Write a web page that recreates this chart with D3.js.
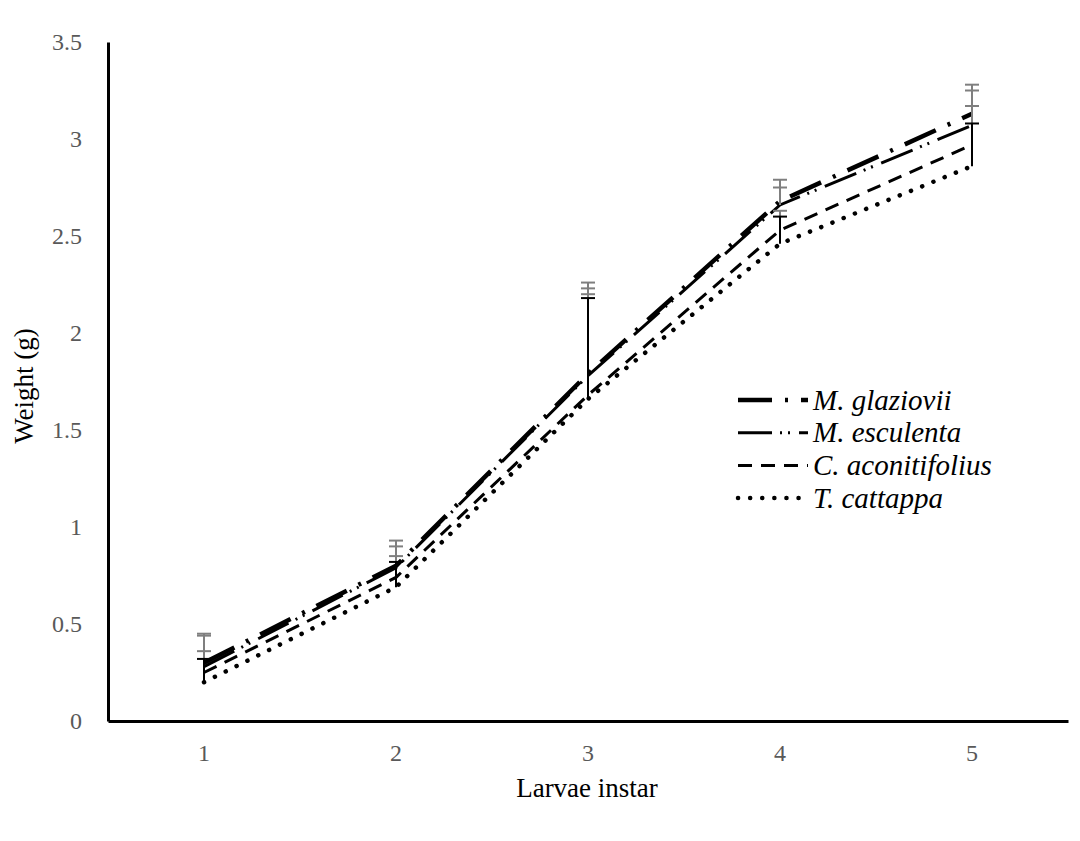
<!DOCTYPE html>
<html>
<head>
<meta charset="utf-8">
<script src="https://cdn.jsdelivr.net/npm/d3@7"></script>
<style>
    body { margin: 0; background: #fff; }
    svg, svg text { font-family: "Liberation Serif", "Times New Roman", serif; }
    svg { display: block; }
</style>
</head>
<body>
<div id="chart"></div>
<script>
// Larvae instars
const instars = [1, 2, 3, 4, 5];
const yTicks = [0, 0.5, 1, 1.5, 2, 2.5, 3, 3.5];

// Mean weight (g) per food plant
const glaziovii = [0.30, 0.80, 1.79, 2.68, 3.13];
const esculenta = [0.28, 0.79, 1.78, 2.66, 3.07];
const aconitifolius = [0.25, 0.74, 1.68, 2.53, 2.97];
const cattappa = [0.20, 0.69, 1.66, 2.46, 2.86];

// Upper error amounts
const glazioviiErr = [0.15, 0.13, 0.47, 0.11, 0.15];
const esculentaErr = [0.16, 0.11, 0.45, 0.09, 0.18];
const aconitifoliusErr = [0.11, 0.11, 0.52, 0.10, 0.20];
const cattappaErr = [0.12, 0.13, 0.52, 0.14, 0.22];

const seriesNames = ['M. glaziovii', 'M. esculenta', 'C. aconitifolius', 'T. cattappa'];

const series = [
    { name: seriesNames[0], values: glaziovii, err: glazioviiErr, width: 4.5, dash: '34 13 3 13', cap: 'butt', errColor: '#7f7f7f' },
    { name: seriesNames[1], values: esculenta, err: esculentaErr, width: 3, dash: '34 8 2 6 2 9', cap: 'butt', errColor: '#7f7f7f' },
    { name: seriesNames[2], values: aconitifolius, err: aconitifoliusErr, width: 3, dash: '14 9', cap: 'butt', errColor: '#7f7f7f' },
    { name: seriesNames[3], values: cattappa, err: cattappaErr, width: 4.5, dash: '0.1 12', cap: 'round', errColor: '#000' }
];

const width = 1080, height = 841;
const plot = { left: 108, right: 1068, top: 42, bottom: 721 };
const serif = '"Liberation Serif", "Times New Roman", serif';

const svg = d3.select('#chart').append('svg')
    .attr('width', width)
    .attr('height', height);

const x = d3.scaleBand()
    .domain(instars)
    .range([plot.left, plot.right]);
const cx = d => x(d) + x.bandwidth() / 2;

const y = d3.scaleLinear()
    .domain([0, 3.5])
    .range([plot.bottom, plot.top]);

// Y axis
const yAxis = svg.append('g')
    .attr('transform', `translate(${plot.left},0)`)
    .call(d3.axisLeft(y).tickValues(yTicks).tickSize(0).tickPadding(26).tickFormat(d3.format('')))
    .attr('font-family', serif);
yAxis.select('.domain').attr('stroke', '#000').attr('stroke-width', 3);
yAxis.selectAll('text')
    .attr('fill', '#595959')
    .style('font-size', '24px')
    .attr('dy', '0.32em');

// X axis
const xAxis = svg.append('g')
    .attr('transform', `translate(0,${plot.bottom})`)
    .call(d3.axisBottom(x).tickSize(0).tickPadding(23))
    .attr('font-family', serif);
xAxis.select('.domain').attr('stroke', '#000').attr('stroke-width', 3);
xAxis.selectAll('text')
    .attr('fill', '#595959')
    .style('font-size', '24px');

// Axis titles
svg.append('text')
    .attr('x', (plot.left + plot.right) / 2 - 1)
    .attr('y', 797)
    .attr('text-anchor', 'middle')
    .style('font-size', '27px')
    .text('Larvae instar');

svg.append('text')
    .attr('transform', 'translate(33,386) rotate(-90)')
    .attr('text-anchor', 'middle')
    .style('font-size', '27px')
    .text('Weight (g)');

// Lines
const line = d3.line()
    .x((d, i) => cx(instars[i]))
    .y(d => y(d));

series.slice().reverse().forEach(s => {
    svg.append('path')
        .datum(s.values)
        .attr('d', line)
        .attr('fill', 'none')
        .attr('stroke', '#000')
        .attr('stroke-width', s.width)
        .attr('stroke-dasharray', s.dash)
        .attr('stroke-linecap', s.cap);
});

// Error bars (plus only)
series.forEach(s => {
    const g = svg.append('g')
        .attr('stroke', s.errColor)
        .attr('stroke-width', 2);
    s.values.forEach((v, i) => {
        const px = cx(instars[i]);
        const top = y(v + s.err[i]);
        g.append('line')
            .attr('x1', px).attr('x2', px)
            .attr('y1', y(v)).attr('y2', top);
        g.append('line')
            .attr('x1', px - 7).attr('x2', px + 7)
            .attr('y1', top).attr('y2', top);
    });
});

// Legend
const legend = svg.append('g').attr('transform', 'translate(738,400)');
series.forEach((s, i) => {
    const row = legend.append('g').attr('transform', `translate(0,${i * 32.7})`);
    row.append('line')
        .attr('x1', 0).attr('x2', 70)
        .attr('y1', 0).attr('y2', 0)
        .attr('stroke', '#000')
        .attr('stroke-width', s.width)
        .attr('stroke-dasharray', s.dash)
        .attr('stroke-linecap', s.cap);
    row.append('text')
        .attr('x', 75)
        .attr('y', 0)
        .attr('dy', '0.33em')
        .style('font-size', '29px')
        .style('font-style', 'italic')
        .text(s.name);
});
</script>
</body>
</html>
